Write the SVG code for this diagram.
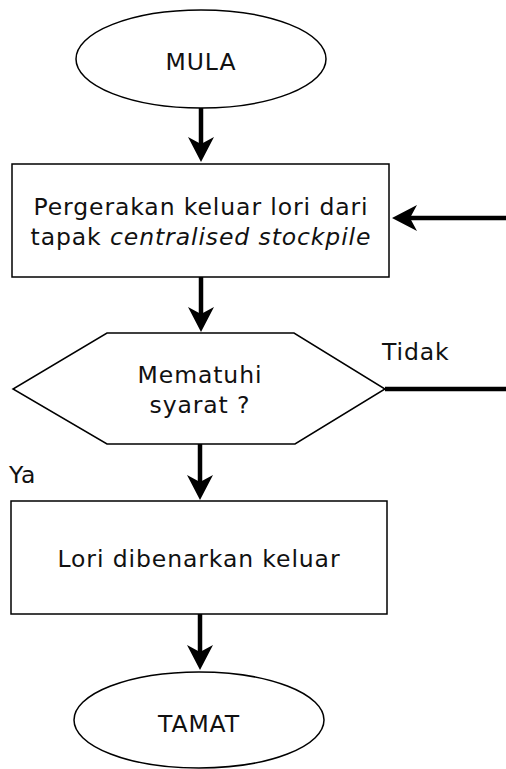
<svg xmlns="http://www.w3.org/2000/svg" width="506" height="769" viewBox="0 0 506 769">
  <style>
    .shape { fill: #fff; stroke: #000; stroke-width: 1.5; }
    .flow { fill: none; stroke: #000; stroke-width: 4.5; }
    .label { font-family: "DejaVu Sans", "Liberation Sans", sans-serif; font-size: 23.5px; letter-spacing: 0.9px; fill: #111; text-anchor: middle; }
    .side { text-anchor: start; }
  </style>
  <defs>
    <!-- arrowhead: the line stops 12px before the tip so its square end stays hidden -->
    <marker id="head" markerUnits="userSpaceOnUse" viewBox="-27 -15 30 30" refX="-12" refY="0" markerWidth="30" markerHeight="30" orient="auto">
      <path d="M0,0 L-25,-13 L-18,0 L-25,13 Z" fill="#000"/>
    </marker>
  </defs>
  <rect width="506" height="769" fill="#fff"/>

  <g id="connectors">
    <line class="flow" x1="201" y1="108" x2="201" y2="150" marker-end="url(#head)"/>
    <line class="flow" x1="201" y1="277" x2="201" y2="320" marker-end="url(#head)"/>
    <line class="flow" x1="200" y1="444" x2="200" y2="488" marker-end="url(#head)"/>
    <line class="flow" x1="200" y1="614" x2="200" y2="658" marker-end="url(#head)"/>
    <line class="flow" x1="385" y1="389" x2="506" y2="389"/>
    <line class="flow" x1="506" y1="218" x2="404" y2="218" marker-end="url(#head)"/>
    <text class="label side" x="382" y="360">Tidak</text>
    <text class="label side" x="9" y="483">Ya</text>
  </g>

  <g id="mula">
    <ellipse class="shape" cx="201" cy="59" rx="125" ry="49"/>
    <text class="label" x="201" y="70">MULA</text>
  </g>

  <g id="pergerakan">
    <rect class="shape" x="12" y="164" width="377" height="113"/>
    <text class="label" x="201" y="215">Pergerakan keluar lori dari</text>
    <text class="label" x="201" y="245">tapak <tspan font-style="italic">centralised stockpile</tspan></text>
  </g>

  <g id="syarat">
    <polygon class="shape" points="107,333 294,333 385,389 295,444 107,444 13,389"/>
    <text class="label" x="200" y="383">Mematuhi</text>
    <text class="label" x="200" y="413">syarat ?</text>
  </g>

  <g id="keluar">
    <rect class="shape" x="11" y="501" width="376" height="113"/>
    <text class="label" x="199" y="567">Lori dibenarkan keluar</text>
  </g>

  <g id="tamat">
    <ellipse class="shape" cx="199" cy="720" rx="125" ry="48"/>
    <text class="label" x="199" y="732">TAMAT</text>
  </g>
</svg>
